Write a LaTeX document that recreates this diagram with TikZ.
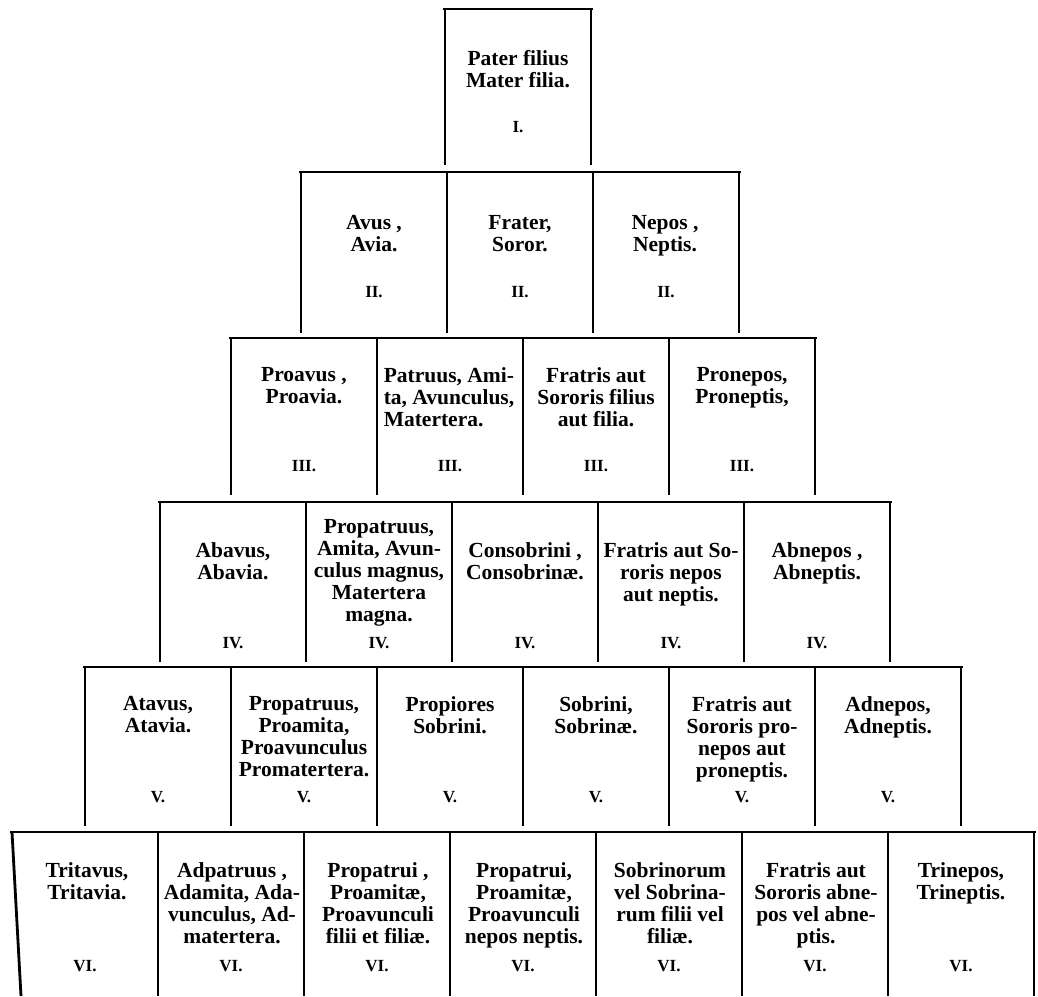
\documentclass[tikz,border=0pt]{standalone}
\usepackage{fontspec}
\setmainfont{Liberation Serif}
\usepackage{tikz}
\usetikzlibrary{positioning}

\begin{document}
\begin{tikzpicture}[x=1pt, y=-1pt,
		rule/.style={line width=2.8pt},
		cell/.style={anchor=north, align=center, inner sep=0pt, font=\fontsize{21.5}{22}\selectfont\bfseries},
		grade/.style={inner sep=0pt, font=\fontsize{17}{17}\selectfont\bfseries}]
	\useasboundingbox (0,0) rectangle (1038,996);
	% rows: row / left edge / cells / top / bottom
	\foreach \r/\xl/\k/\yt/\yb in {1/445/1/9/165, 2/301/3/172/333, 3/231/4/338/495,
			4/160/5/502/662, 5/85/6/667/826, 6/12/7/832/996} {
		\draw[rule] (\xl-2,\yt) -- (\xl+146*\k+2,\yt);
		\foreach \c in {1,...,\k}
			\draw[rule] (\xl+146*\c,\yt) -- (\xl+146*\c,\yb);
	}
	% left edges, the last one leaning
	\foreach \xl/\yt/\yb in {445/9/165, 301/172/333, 231/338/495, 160/502/662, 85/667/826}
		\draw[rule] (\xl,\yt) -- (\xl,\yb);
	\draw[rule] (12,832) -- (21,996);
	% degree numbers
	\foreach \r/\xl/\k/\yn/\g in {1/445/1/127/I, 2/301/3/292/II, 3/231/4/466/III,
			4/160/5/643/IV, 5/85/6/797/V, 6/12/7/966/VI} {
		\foreach \c in {1,...,\k}
			\node[grade] (n-\r-\c) at (\xl+146*\c-73,\yn) {\g.};
	}
	
	\node[cell] (c-1-1) at (518,50) {Pater filius\\Mater filia.};
	
	\node[cell] (c-2-1) at (374,215) {Avus ,\\Avia.};
	\node[cell] (c-2-2) at (520,215) {Frater,\\Soror.};
	\node[cell] (c-2-3) at (665,215) {Nepos ,\\Neptis.};
	
	\node[cell] (c-3-1) at (304,367) {Proavus ,\\Proavia.};
	\node[cell, align=left] (c-3-2) at (449,367) {Patruus, Ami-\\ta, Avunculus,\\Matertera.};
	\node[cell] (c-3-3) at (596,367) {Fratris aut\\Sororis filius\\aut filia.};
	\node[cell] (c-3-4) at (742,367) {Pronepos,\\Proneptis,};
	
	\node[cell] (c-4-1) at (233,542) {Abavus,\\Abavia.};
	\node[cell] (c-4-2) at (379,519) {Propatruus,\\Amita, Avun-\\culus magnus,\\Matertera\\magna.};
	\node[cell] (c-4-3) at (525,542) {Consobrini ,\\Consobrinæ.};
	\node[cell] (c-4-4) at (671,542) {Fratris aut So-\\roris nepos\\aut neptis.};
	\node[cell] (c-4-5) at (817,542) {Abnepos ,\\Abneptis.};
	
	\node[cell] (c-5-1) at (158,696) {Atavus,\\Atavia.};
	\node[cell] (c-5-2) at (304,696) {Propatruus,\\Proamita,\\Proavunculus\\Promatertera.};
	\node[cell] (c-5-3) at (450,696) {Propiores\\Sobrini.};
	\node[cell] (c-5-4) at (596,696) {Sobrini,\\Sobrinæ.};
	\node[cell] (c-5-5) at (742,696) {Fratris aut\\Sororis pro-\\nepos aut\\proneptis.};
	\node[cell] (c-5-6) at (888,696) {Adnepos,\\Adneptis.};
	
	\node[cell] (c-6-1) at (87,862) {Tritavus,\\Tritavia.};
	\node[cell] (c-6-2) at (232,862) {Adpatruus ,\\Adamita, Ada-\\vunculus, Ad-\\matertera.};
	\node[cell] (c-6-3) at (378,862) {Propatrui ,\\Proamitæ,\\Proavunculi\\filii et filiæ.};
	\node[cell] (c-6-4) at (524,862) {Propatrui,\\Proamitæ,\\Proavunculi\\nepos neptis.};
	\node[cell] (c-6-5) at (670,862) {Sobrinorum\\vel Sobrina-\\rum filii vel\\filiæ.};
	\node[cell] (c-6-6) at (816,862) {Fratris aut\\Sororis abne-\\pos vel abne-\\ptis.};
	\node[cell] (c-6-7) at (961,862) {Trinepos,\\Trineptis.};
\end{tikzpicture}
\end{document}
